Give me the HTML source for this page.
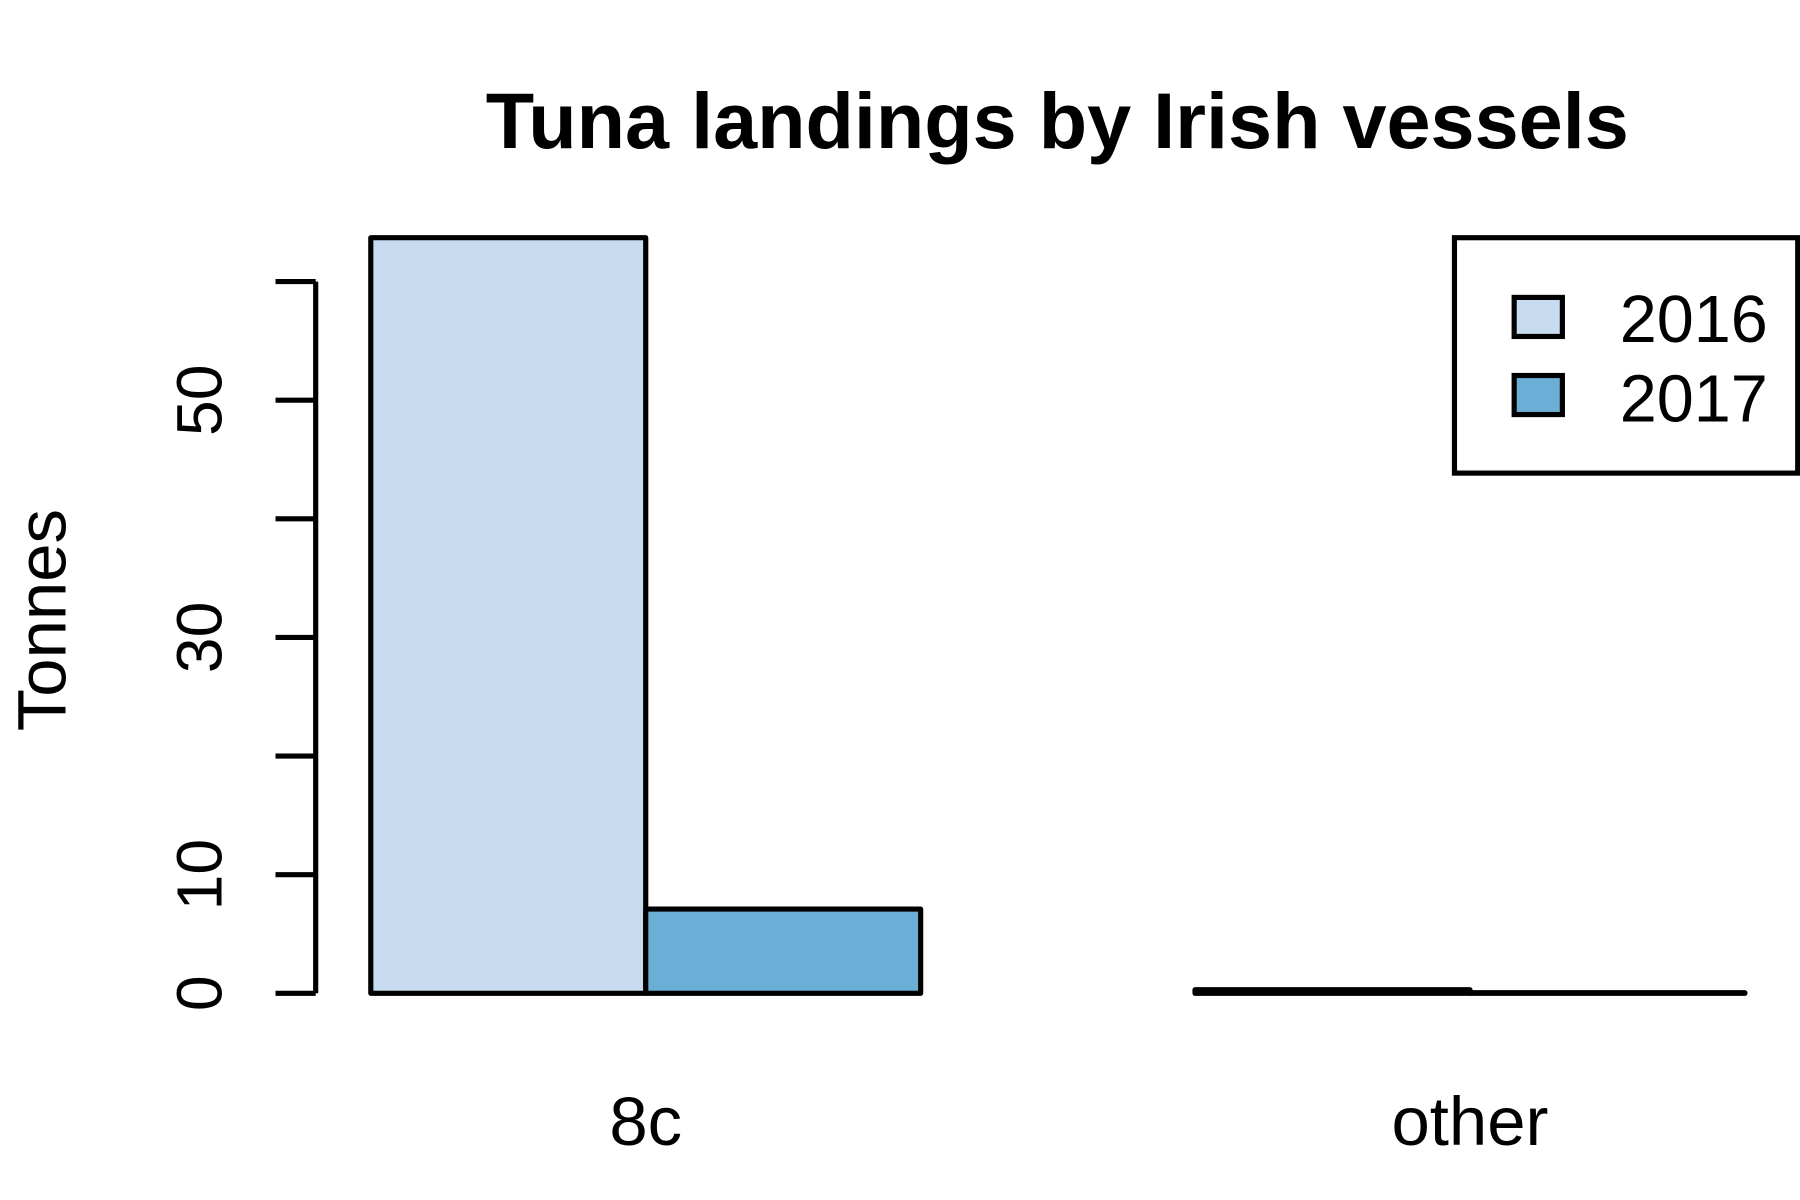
<!DOCTYPE html>
<html><head><meta charset="utf-8"><style>
html,body{margin:0;padding:0;background:#fff;}
svg{display:block;font-family:"Liberation Sans",Arial,sans-serif;}
</style></head><body>
<svg id="chart" width="1800" height="1200" viewBox="0 0 1568 1045" preserveAspectRatio="none" xmlns="http://www.w3.org/2000/svg">
<rect width="1568" height="1045" fill="#fff"/>
<text x="921" y="129" font-size="69" font-weight="bold" text-anchor="middle">Tuna landings by Irish vessels</text>
<text transform="translate(57,540) rotate(-90)" font-size="60" text-anchor="middle">Tonnes</text>
<g id="yaxis"></g>
<g id="bars"></g>
<g id="xlabels"></g>
<g>
<rect x="1267" y="207" width="299" height="205" fill="#fff" stroke="#000" stroke-width="4.5"/>
<g>
<rect x="1319" y="259" width="42" height="34" fill="#c6dbef" stroke="#000" stroke-width="4.5"/>
<text x="1540" y="298" font-size="58" text-anchor="end">2016</text></g>
<g>
<rect x="1319" y="327" width="42" height="34" fill="#6baed6" stroke="#000" stroke-width="4.5"/>
<text x="1540" y="367" font-size="58" text-anchor="end">2017</text></g>
</g>
</svg>
<script>
const categories = ["8c", "other"];
const series2016 = [63.7, 0.3];
const series2017 = [7.1, 0.05];
const yTicks = [0, 10, 20, 30, 40, 50, 60];
const yTickLabels = ["0", "10", "", "30", "", "50", ""];
const colors = ["#c6dbef", "#6baed6"];

const NS = "http://www.w3.org/2000/svg";
const y0 = 865, pxPerUnit = 10.33;
function yScale(v){ return y0 - v * pxPerUnit; }
const groupStart = [323, 1041], barW = 239.5;
function xBar(ci, si){ return groupStart[ci] + si * barW; }
function mk(tag, attrs, parent){ const e=document.createElementNS(NS,tag); for(const k in attrs) e.setAttribute(k,attrs[k]); parent.appendChild(e); return e; }

const ya = document.getElementById("yaxis");
mk("line",{x1:275,x2:275,y1:yScale(yTicks[yTicks.length-1]),y2:yScale(0),stroke:"#000","stroke-width":4.5},ya);
yTicks.forEach((t,i)=>{
  const ln = mk("line",{x1:240,x2:275,y1:yScale(t),y2:yScale(t),stroke:"#000","stroke-width":4.5},ya);
  
  
  if(yTickLabels[i]){
    const tx = mk("text",{transform:`translate(193,${yScale(t)}) rotate(-90)`,"font-size":56,"text-anchor":"middle"},ya);
    tx.textContent = yTickLabels[i];
    
    
  }
});

const bg = document.getElementById("bars");
[series2016, series2017].forEach((s,si)=>{
  s.forEach((v,ci)=>{
    const top = yScale(v);
    const r = mk("rect",{x:xBar(ci,si),y:top,width:barW,height:Math.max(y0-top,0.5),fill:colors[si],stroke:"#000","stroke-width":4.5,"stroke-linejoin":"round"},bg);
    
    
  });
});

const xl = document.getElementById("xlabels");
categories.forEach((c,ci)=>{
  const t = mk("text",{x:groupStart[ci]+barW,y:997,"font-size":60,"text-anchor":"middle"},xl);
  t.textContent = c;
  
  
});
</script>
</body></html>
